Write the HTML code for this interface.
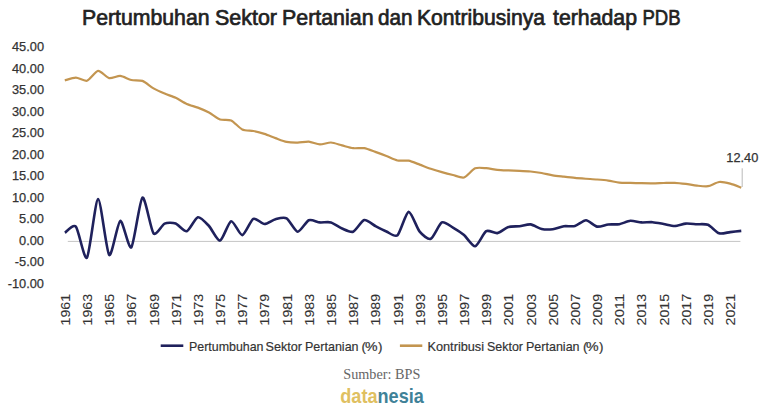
<!DOCTYPE html>
<html><head><meta charset="utf-8"><style>
html,body{margin:0;padding:0;background:#fff;}
body{width:768px;height:413px;overflow:hidden;position:relative;}
svg{position:absolute;left:0;top:0;}
.t{font-family:"Liberation Sans",Arial,sans-serif;}
</style></head><body>
<svg width="768" height="413" viewBox="0 0 768 413">
<rect width="768" height="413" fill="#fff"/>
<g class="t" font-size="22" fill="#222" stroke="#222" stroke-width="0.7"><text x="82.00" y="25.0" textLength="127.54" lengthAdjust="spacingAndGlyphs">Pertumbuhan</text><text x="215.00" y="25.0" textLength="62.01" lengthAdjust="spacingAndGlyphs">Sektor</text><text x="282.00" y="25.0" textLength="91.56" lengthAdjust="spacingAndGlyphs">Pertanian</text><text x="378.00" y="25.0" textLength="34.58" lengthAdjust="spacingAndGlyphs">dan</text><text x="417.00" y="25.0" textLength="128.04" lengthAdjust="spacingAndGlyphs">Kontribusinya</text><text x="553.00" y="25.0" textLength="84.01" lengthAdjust="spacingAndGlyphs">terhadap</text><text x="642.50" y="25.0" textLength="38.13" lengthAdjust="spacingAndGlyphs">PDB</text></g>
<g class="t" font-size="12.8" fill="#333" stroke="#333" stroke-width="0.25" text-anchor="end">
<text x="44" y="51.05">45.00</text>
<text x="44" y="72.57">40.00</text>
<text x="44" y="94.09">35.00</text>
<text x="44" y="115.61">30.00</text>
<text x="44" y="137.13">25.00</text>
<text x="44" y="158.65">20.00</text>
<text x="44" y="180.17">15.00</text>
<text x="44" y="201.69">10.00</text>
<text x="44" y="223.21">5.00</text>
<text x="44" y="244.73">0.00</text>
<text x="44" y="266.25">-5.00</text>
<text x="44" y="287.77">-10.00</text>
</g>
<line x1="67.8" y1="241.4" x2="740.4" y2="241.4" stroke="#c4c4c4" stroke-width="1"/>
<path d="M64.80,80.40 C66.13,80.06 73.23,77.56 75.89,77.60 C78.55,77.64 84.32,81.55 86.98,80.75 C89.64,79.95 95.41,71.22 98.07,70.90 C100.73,70.58 106.50,77.50 109.16,78.10 C111.82,78.70 117.59,75.67 120.25,75.90 C122.91,76.13 128.68,79.40 131.34,80.00 C134.00,80.60 139.77,79.89 142.43,80.90 C145.09,81.91 150.86,86.88 153.52,88.40 C156.18,89.92 161.95,92.47 164.61,93.60 C167.27,94.73 173.04,96.55 175.70,97.80 C178.36,99.05 184.13,102.82 186.79,104.00 C189.45,105.18 195.22,106.58 197.88,107.60 C200.54,108.62 206.31,111.07 208.97,112.50 C211.63,113.93 217.40,118.54 220.06,119.50 C222.72,120.46 228.49,119.31 231.15,120.50 C233.81,121.69 239.58,128.14 242.24,129.40 C244.90,130.66 250.67,130.46 253.33,131.00 C255.99,131.54 261.76,133.05 264.42,133.90 C267.08,134.75 272.85,137.14 275.51,138.10 C278.17,139.06 283.94,141.36 286.60,141.90 C289.26,142.44 295.03,142.64 297.69,142.60 C300.35,142.56 306.12,141.38 308.78,141.60 C311.44,141.82 317.21,144.29 319.87,144.40 C322.53,144.51 328.30,142.38 330.96,142.50 C333.62,142.62 339.39,144.72 342.05,145.40 C344.71,146.08 350.48,147.86 353.14,148.20 C355.80,148.54 361.57,147.76 364.23,148.20 C366.89,148.64 372.66,150.96 375.32,151.90 C377.98,152.84 383.75,154.97 386.41,156.00 C389.07,157.03 394.84,159.94 397.50,160.50 C400.16,161.06 405.93,160.21 408.59,160.70 C411.25,161.19 417.02,163.63 419.68,164.60 C422.34,165.57 428.11,167.85 430.77,168.75 C433.43,169.65 439.20,171.35 441.86,172.10 C444.52,172.85 450.29,174.35 452.95,175.00 C455.61,175.65 461.38,178.30 464.04,177.50 C466.70,176.70 472.47,169.42 475.13,168.30 C477.79,167.18 483.56,168.02 486.22,168.20 C488.88,168.38 494.65,169.54 497.31,169.80 C499.97,170.06 505.74,170.28 508.40,170.40 C511.06,170.52 516.83,170.67 519.49,170.80 C522.15,170.93 527.92,171.24 530.58,171.50 C533.24,171.76 539.01,172.53 541.67,173.00 C544.33,173.47 550.10,174.96 552.76,175.40 C555.42,175.84 561.19,176.40 563.85,176.70 C566.51,177.00 572.28,177.65 574.94,177.90 C577.60,178.15 583.37,178.56 586.03,178.75 C588.69,178.94 594.46,179.28 597.12,179.50 C599.78,179.72 605.55,180.22 608.21,180.60 C610.87,180.98 616.64,182.42 619.30,182.70 C621.96,182.98 627.73,182.84 630.39,182.90 C633.05,182.96 638.82,183.15 641.48,183.20 C644.14,183.25 649.91,183.32 652.57,183.30 C655.23,183.28 661.00,183.06 663.66,183.00 C666.32,182.94 672.09,182.69 674.75,182.80 C677.41,182.91 683.18,183.56 685.84,183.90 C688.50,184.24 694.27,185.32 696.93,185.60 C699.59,185.88 705.36,186.63 708.02,186.20 C710.68,185.77 716.45,182.31 719.11,182.00 C721.77,181.69 727.54,182.93 730.20,183.60 C732.86,184.27 739.96,187.12 741.29,187.60" fill="none" stroke="#c39550" stroke-width="2.2" stroke-linejoin="round" stroke-linecap="butt"/>
<path d="M64.80,232.70 C66.13,231.98 73.23,223.71 75.89,226.70 C78.55,229.69 84.32,260.91 86.98,257.60 C89.64,254.29 95.41,199.42 98.07,199.10 C100.73,198.78 106.50,252.28 109.16,254.90 C111.82,257.52 117.59,221.81 120.25,220.90 C122.91,219.99 128.68,250.10 131.34,247.30 C134.00,244.50 139.77,199.28 142.43,197.60 C145.09,195.92 150.86,230.18 153.52,233.30 C156.18,236.42 161.95,224.76 164.61,223.60 C167.27,222.44 173.04,222.69 175.70,223.60 C178.36,224.51 184.13,231.97 186.79,231.20 C189.45,230.43 195.22,217.82 197.88,217.20 C200.54,216.58 206.31,223.19 208.97,226.00 C211.63,228.81 217.40,241.18 220.06,240.60 C222.72,240.02 228.49,221.86 231.15,221.20 C233.81,220.54 239.58,235.39 242.24,235.10 C244.90,234.81 250.67,220.13 253.33,218.80 C255.99,217.47 261.76,223.95 264.42,224.00 C267.08,224.05 272.85,219.87 275.51,219.20 C278.17,218.53 283.94,216.90 286.60,218.40 C289.26,219.90 295.03,231.47 297.69,231.70 C300.35,231.93 306.12,221.42 308.78,220.30 C311.44,219.18 317.21,222.15 319.87,222.40 C322.53,222.65 328.30,221.67 330.96,222.40 C333.62,223.13 339.39,227.38 342.05,228.50 C344.71,229.62 350.48,232.72 353.14,231.70 C355.80,230.68 361.57,220.68 364.23,220.00 C366.89,219.32 372.66,224.62 375.32,226.00 C377.98,227.38 383.75,230.38 386.41,231.50 C389.07,232.62 394.84,237.65 397.50,235.30 C400.16,232.95 405.93,212.33 408.59,211.90 C411.25,211.47 417.02,228.47 419.68,231.70 C422.34,234.93 428.11,239.92 430.77,238.80 C433.43,237.68 439.20,223.74 441.86,222.40 C444.52,221.06 450.29,226.08 452.95,227.60 C455.61,229.12 461.38,232.86 464.04,235.10 C466.70,237.34 472.47,246.77 475.13,246.30 C477.79,245.83 483.56,232.78 486.22,231.20 C488.88,229.62 494.65,233.60 497.31,233.10 C499.97,232.60 505.74,227.83 508.40,227.00 C511.06,226.17 516.83,226.51 519.49,226.20 C522.15,225.89 527.92,224.06 530.58,224.40 C533.24,224.74 539.01,228.42 541.67,229.00 C544.33,229.58 550.10,229.54 552.76,229.20 C555.42,228.86 561.19,226.58 563.85,226.20 C566.51,225.82 572.28,226.71 574.94,226.00 C577.60,225.29 583.37,220.23 586.03,220.30 C588.69,220.37 594.46,226.10 597.12,226.60 C599.78,227.10 605.55,224.79 608.21,224.50 C610.87,224.21 616.64,224.64 619.30,224.20 C621.96,223.76 627.73,221.02 630.39,220.80 C633.05,220.58 638.82,222.23 641.48,222.40 C644.14,222.57 649.91,222.01 652.57,222.20 C655.23,222.39 661.00,223.54 663.66,224.00 C666.32,224.46 672.09,226.05 674.75,226.00 C677.41,225.95 683.18,223.82 685.84,223.60 C688.50,223.38 694.27,224.06 696.93,224.20 C699.59,224.34 705.36,223.71 708.02,224.80 C710.68,225.89 716.45,232.42 719.11,233.30 C721.77,234.18 727.54,232.39 730.20,232.10 C732.86,231.81 739.96,231.04 741.29,230.90" fill="none" stroke="#1f215c" stroke-width="2.6" stroke-linejoin="round" stroke-linecap="butt"/>
<line x1="742.2" y1="168.3" x2="742.2" y2="187" stroke="#a8a8a8" stroke-width="0.8"/>
<text class="t" x="742.3" y="161.6" text-anchor="middle" font-size="12.8" fill="#333" stroke="#333" stroke-width="0.25">12.40</text>
<g class="t" font-size="12.8" fill="#333" stroke="#333" stroke-width="0.12">
<text transform="translate(69.80,325.5) rotate(-90)" textLength="31.6" lengthAdjust="spacingAndGlyphs">1961</text>
<text transform="translate(91.98,325.5) rotate(-90)" textLength="31.6" lengthAdjust="spacingAndGlyphs">1963</text>
<text transform="translate(114.16,325.5) rotate(-90)" textLength="31.6" lengthAdjust="spacingAndGlyphs">1965</text>
<text transform="translate(136.34,325.5) rotate(-90)" textLength="31.6" lengthAdjust="spacingAndGlyphs">1967</text>
<text transform="translate(158.52,325.5) rotate(-90)" textLength="31.6" lengthAdjust="spacingAndGlyphs">1969</text>
<text transform="translate(180.70,325.5) rotate(-90)" textLength="31.6" lengthAdjust="spacingAndGlyphs">1971</text>
<text transform="translate(202.88,325.5) rotate(-90)" textLength="31.6" lengthAdjust="spacingAndGlyphs">1973</text>
<text transform="translate(225.06,325.5) rotate(-90)" textLength="31.6" lengthAdjust="spacingAndGlyphs">1975</text>
<text transform="translate(247.24,325.5) rotate(-90)" textLength="31.6" lengthAdjust="spacingAndGlyphs">1977</text>
<text transform="translate(269.42,325.5) rotate(-90)" textLength="31.6" lengthAdjust="spacingAndGlyphs">1979</text>
<text transform="translate(291.60,325.5) rotate(-90)" textLength="31.6" lengthAdjust="spacingAndGlyphs">1981</text>
<text transform="translate(313.78,325.5) rotate(-90)" textLength="31.6" lengthAdjust="spacingAndGlyphs">1983</text>
<text transform="translate(335.96,325.5) rotate(-90)" textLength="31.6" lengthAdjust="spacingAndGlyphs">1985</text>
<text transform="translate(358.14,325.5) rotate(-90)" textLength="31.6" lengthAdjust="spacingAndGlyphs">1987</text>
<text transform="translate(380.32,325.5) rotate(-90)" textLength="31.6" lengthAdjust="spacingAndGlyphs">1989</text>
<text transform="translate(402.50,325.5) rotate(-90)" textLength="31.6" lengthAdjust="spacingAndGlyphs">1991</text>
<text transform="translate(424.68,325.5) rotate(-90)" textLength="31.6" lengthAdjust="spacingAndGlyphs">1993</text>
<text transform="translate(446.86,325.5) rotate(-90)" textLength="31.6" lengthAdjust="spacingAndGlyphs">1995</text>
<text transform="translate(469.04,325.5) rotate(-90)" textLength="31.6" lengthAdjust="spacingAndGlyphs">1997</text>
<text transform="translate(491.22,325.5) rotate(-90)" textLength="31.6" lengthAdjust="spacingAndGlyphs">1999</text>
<text transform="translate(513.40,325.5) rotate(-90)" textLength="31.6" lengthAdjust="spacingAndGlyphs">2001</text>
<text transform="translate(535.58,325.5) rotate(-90)" textLength="31.6" lengthAdjust="spacingAndGlyphs">2003</text>
<text transform="translate(557.76,325.5) rotate(-90)" textLength="31.6" lengthAdjust="spacingAndGlyphs">2005</text>
<text transform="translate(579.94,325.5) rotate(-90)" textLength="31.6" lengthAdjust="spacingAndGlyphs">2007</text>
<text transform="translate(602.12,325.5) rotate(-90)" textLength="31.6" lengthAdjust="spacingAndGlyphs">2009</text>
<text transform="translate(624.30,325.5) rotate(-90)" textLength="31.6" lengthAdjust="spacingAndGlyphs">2011</text>
<text transform="translate(646.48,325.5) rotate(-90)" textLength="31.6" lengthAdjust="spacingAndGlyphs">2013</text>
<text transform="translate(668.66,325.5) rotate(-90)" textLength="31.6" lengthAdjust="spacingAndGlyphs">2015</text>
<text transform="translate(690.84,325.5) rotate(-90)" textLength="31.6" lengthAdjust="spacingAndGlyphs">2017</text>
<text transform="translate(713.02,325.5) rotate(-90)" textLength="31.6" lengthAdjust="spacingAndGlyphs">2019</text>
<text transform="translate(735.20,325.5) rotate(-90)" textLength="31.6" lengthAdjust="spacingAndGlyphs">2021</text>
</g>
<line x1="160.7" y1="345.7" x2="183.3" y2="345.7" stroke="#1f215c" stroke-width="2.6"/>
<g class="t" font-size="13.3" fill="#333" stroke="#333" stroke-width="0.2"><text x="189.00" y="350.5" textLength="74.53" lengthAdjust="spacingAndGlyphs">Pertumbuhan</text><text x="265.50" y="350.5" textLength="36.53" lengthAdjust="spacingAndGlyphs">Sektor</text><text x="305.00" y="350.5" textLength="53.54" lengthAdjust="spacingAndGlyphs">Pertanian</text><text x="361.50" y="350.5">(</text><text x="365.00" y="350.5" textLength="12.53" lengthAdjust="spacingAndGlyphs">%</text><text x="378.00" y="350.5">)</text></g>
<line x1="399.9" y1="345.7" x2="422.3" y2="345.7" stroke="#c39550" stroke-width="2.6"/>
<g class="t" font-size="13.3" fill="#333" stroke="#333" stroke-width="0.2"><text x="427.50" y="350.5" textLength="56.54" lengthAdjust="spacingAndGlyphs">Kontribusi</text><text x="487.00" y="350.5" textLength="36.01" lengthAdjust="spacingAndGlyphs">Sektor</text><text x="526.00" y="350.5" textLength="53.54" lengthAdjust="spacingAndGlyphs">Pertanian</text><text x="583.00" y="350.5">(</text><text x="586.00" y="350.5" textLength="12.60" lengthAdjust="spacingAndGlyphs">%</text><text x="599.00" y="350.5">)</text></g>
<text x="381.8" y="378.6" text-anchor="middle" font-family="'Liberation Serif',serif" font-size="14" fill="#666" textLength="77" lengthAdjust="spacingAndGlyphs">Sumber: BPS</text>
<text x="340.3" y="403" font-family="'Liberation Sans',Arial,sans-serif" font-weight="bold" font-size="20.5" textLength="83.5" lengthAdjust="spacingAndGlyphs"><tspan fill="#dfc061">data</tspan><tspan fill="#3f8298">nesia</tspan></text>
</svg>
</body></html>
